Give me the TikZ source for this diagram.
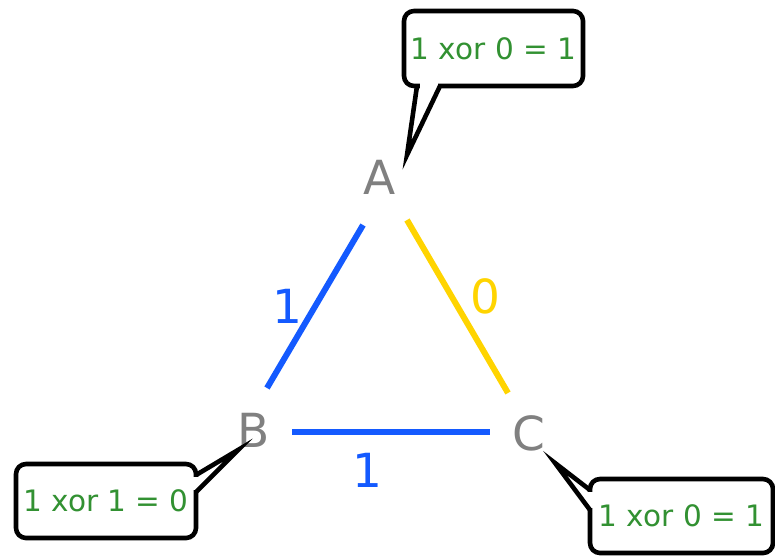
\documentclass[tikz,border=0pt]{standalone}
\usepackage{fontspec}
\setmainfont{DejaVu Sans}
\definecolor{vgray}{RGB}{128,128,128}
\definecolor{eblue}{RGB}{20,90,255}
\definecolor{eyellow}{RGB}{255,212,0}
\definecolor{tgreen}{RGB}{50,145,50}
\begin{document}
\begin{tikzpicture}[x=1pt,y=-1pt,
  vert/.style={inner sep=0pt,text=vgray,font=\fontsize{47}{47}\selectfont},
  elabel/.style={inner sep=0pt,font=\fontsize{47}{47}\selectfont},
  edge/.style={line width=6pt},
  bubble/.style={draw=black,line width=4.6pt,rounded corners=10pt,fill=white,
    text=tgreen,font=\fontsize{29.5}{29.5}\selectfont,inner sep=0pt},
  ptr/.style={draw=black,line width=4.6pt,line join=miter,miter limit=20}]
\useasboundingbox (0,0) rectangle (775,556);
% vertices
\node[vert] (A) at (380,177) {A};
\node[vert] (B) at (254,430) {B};
\node[vert] (C) at (529,433) {C};
% edges
\draw[edge,eblue] ([shift={(-17,48)}]A.center) -- ([shift={(13,-42)}]B.center);
\draw[edge,eyellow] ([shift={(27,43)}]A.center) -- ([shift={(-21,-40)}]C.center);
\draw[edge,eblue] ([shift={(38,2)}]B.center) -- ([shift={(-39,-1)}]C.center);
\node[elabel,text=eblue] (lab) at (287,306) {1};
\node[elabel,text=eyellow] (lac) at (485,296) {0};
\node[elabel,text=eblue] (lbc) at (367,470) {1};
% callout boxes
\node[bubble,minimum width=179pt,minimum height=75pt] (bA) at (493.5,48.5) {1 xor 0 = 1};
\node[bubble,minimum width=180pt,minimum height=74pt] (bB) at (106,501) {1 xor 1 = 0};
\node[bubble,minimum width=183pt,minimum height=74pt] (bC) at (681.5,516) {1 xor 0 = 1};
% pointers
\coordinate (tA) at (407,155);
\coordinate (tB) at (238,450);
\coordinate (tC) at (555,463);
\fill[white] ([shift={(-74,32)}]bA.center) rectangle ([shift={(-56,41)}]bA.center);
\draw[ptr] ([shift={(-76.5,37.5)}]bA.center) -- (tA) -- ([shift={(-53.5,37.5)}]bA.center);
\fill[white] ([shift={(86,-24)}]bB.center) rectangle ([shift={(94,-11)}]bB.center);
\draw[ptr] ([shift={(90,-26)}]bB.center) -- (tB) -- ([shift={(90,-9)}]bB.center);
\fill[white] ([shift={(-96,-24)}]bC.center) rectangle ([shift={(-88,-8)}]bC.center);
\draw[ptr] ([shift={(-91.5,-26)}]bC.center) -- (tC) -- ([shift={(-91.5,-6)}]bC.center);
\end{tikzpicture}
\end{document}
